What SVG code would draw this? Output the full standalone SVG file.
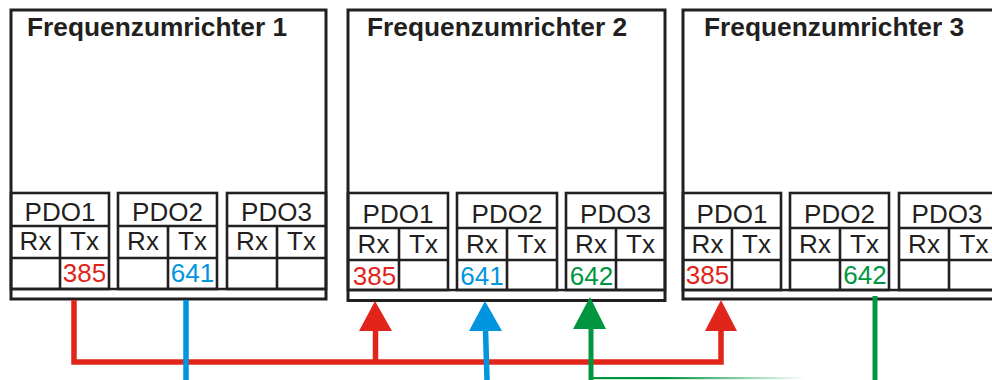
<svg xmlns="http://www.w3.org/2000/svg" width="992" height="380" viewBox="0 0 992 380">
<style>
.box{fill:#fff;stroke:#231f20;stroke-width:3}
.tb{fill:none;stroke:#231f20;stroke-width:2.6}
.ln{stroke:#231f20;stroke-width:2.6}
.title{font-family:"Liberation Sans",Arial,sans-serif;font-weight:bold;font-size:26.3px;fill:#231f20}
.t{font-family:"Liberation Sans",Arial,sans-serif;font-size:26px;fill:#231f20;text-anchor:middle}
.red{fill:#e1251b}
.blue{fill:#0095de}
.green{fill:#00963f}
.cr{stroke:#e1251b;stroke-width:5.5;fill:none}
.cb{stroke:#0095de;stroke-width:5.5;fill:none}
.cg{stroke:#00963f;stroke-width:5;fill:none}
</style>
<defs>
<linearGradient id="gfade" x1="590" y1="0" x2="805" y2="0" gradientUnits="userSpaceOnUse">
<stop offset="0" stop-color="#00963f"/>
<stop offset="0.35" stop-color="#00963f"/>
<stop offset="1" stop-color="#00963f" stop-opacity="0"/>
</linearGradient>
</defs>

<g id="fu1">
<rect class="box" x="11" y="10" width="315" height="289"/>
<line class="ln" x1="11" y1="289" x2="326" y2="289"/>
<text class="title" x="27" y="36">Frequenzumrichter 1</text>
<g id="fu1-pdo1">
<rect class="tb" x="11" y="193" width="98" height="96"/>
<line class="ln" x1="11" y1="226" x2="109" y2="226"/>
<line class="ln" x1="11" y1="258" x2="109" y2="258"/>
<line class="ln" x1="60" y1="226" x2="60" y2="289"/>
<text class="t" x="60" y="221">PDO1</text>
<text class="t" x="35.5" y="250">Rx</text>
<text class="t" x="84.5" y="250">Tx</text>
<text class="t red" x="84.5" y="282">385</text>
</g>
<g id="fu1-pdo2">
<rect class="tb" x="118" y="193" width="99" height="96"/>
<line class="ln" x1="118" y1="226" x2="217" y2="226"/>
<line class="ln" x1="118" y1="258" x2="217" y2="258"/>
<line class="ln" x1="168" y1="226" x2="168" y2="289"/>
<text class="t" x="167.5" y="221">PDO2</text>
<text class="t" x="143" y="250">Rx</text>
<text class="t" x="192.5" y="250">Tx</text>
<text class="t blue" x="192.5" y="282">641</text>
</g>
<g id="fu1-pdo3">
<rect class="tb" x="227" y="193" width="99" height="96"/>
<line class="ln" x1="227" y1="226" x2="326" y2="226"/>
<line class="ln" x1="227" y1="258" x2="326" y2="258"/>
<line class="ln" x1="277" y1="226" x2="277" y2="289"/>
<text class="t" x="276.5" y="221">PDO3</text>
<text class="t" x="252" y="250">Rx</text>
<text class="t" x="301.5" y="250">Tx</text>
</g>
</g>

<g id="fu2">
<rect class="box" x="348" y="10" width="317" height="290.5"/>
<line class="ln" x1="348" y1="290" x2="665" y2="290"/>
<text class="title" x="367" y="36">Frequenzumrichter 2</text>
<g id="fu2-pdo1">
<rect class="tb" x="348" y="193" width="100" height="97"/>
<line class="ln" x1="348" y1="228" x2="448" y2="228"/>
<line class="ln" x1="348" y1="260" x2="448" y2="260"/>
<line class="ln" x1="399" y1="228" x2="399" y2="290"/>
<text class="t" x="398" y="223">PDO1</text>
<text class="t" x="373.5" y="253">Rx</text>
<text class="t" x="423.5" y="253">Tx</text>
<text class="t red" x="374.5" y="285">385</text>
</g>
<g id="fu2-pdo2">
<rect class="tb" x="457" y="193" width="100" height="97"/>
<line class="ln" x1="457" y1="228" x2="557" y2="228"/>
<line class="ln" x1="457" y1="260" x2="557" y2="260"/>
<line class="ln" x1="507" y1="228" x2="507" y2="290"/>
<text class="t" x="507" y="223">PDO2</text>
<text class="t" x="482" y="253">Rx</text>
<text class="t" x="532" y="253">Tx</text>
<text class="t blue" x="482" y="285">641</text>
</g>
<g id="fu2-pdo3">
<rect class="tb" x="566" y="193" width="99" height="97"/>
<line class="ln" x1="566" y1="228" x2="665" y2="228"/>
<line class="ln" x1="566" y1="260" x2="665" y2="260"/>
<line class="ln" x1="616" y1="228" x2="616" y2="290"/>
<text class="t" x="615.5" y="223">PDO3</text>
<text class="t" x="591" y="253">Rx</text>
<text class="t" x="640.5" y="253">Tx</text>
<text class="t green" x="591.5" y="285">642</text>
</g>
</g>

<g id="fu3">
<rect class="box" x="683" y="10" width="330" height="289"/>
<line class="ln" x1="683" y1="290" x2="1013" y2="290"/>
<text class="title" x="704" y="36">Frequenzumrichter 3</text>
<g id="fu3-pdo1">
<rect class="tb" x="683" y="193" width="98" height="97"/>
<line class="ln" x1="683" y1="228" x2="781" y2="228"/>
<line class="ln" x1="683" y1="260" x2="781" y2="260"/>
<line class="ln" x1="732" y1="228" x2="732" y2="290"/>
<text class="t" x="732" y="223">PDO1</text>
<text class="t" x="707.5" y="253">Rx</text>
<text class="t" x="756.5" y="253">Tx</text>
<text class="t red" x="707.5" y="284">385</text>
</g>
<g id="fu3-pdo2">
<rect class="tb" x="790" y="193" width="99" height="97"/>
<line class="ln" x1="790" y1="228" x2="889" y2="228"/>
<line class="ln" x1="790" y1="260" x2="889" y2="260"/>
<line class="ln" x1="840" y1="228" x2="840" y2="290"/>
<text class="t" x="839.5" y="223">PDO2</text>
<text class="t" x="815" y="253">Rx</text>
<text class="t" x="864.5" y="253">Tx</text>
<text class="t green" x="865" y="284">642</text>
</g>
<g id="fu3-pdo3">
<rect class="tb" x="899" y="193" width="100" height="97"/>
<line class="ln" x1="899" y1="228" x2="999" y2="228"/>
<line class="ln" x1="899" y1="260" x2="999" y2="260"/>
<line class="ln" x1="949" y1="228" x2="949" y2="290"/>
<text class="t" x="947" y="223">PDO3</text>
<text class="t" x="924" y="253">Rx</text>
<text class="t" x="974" y="253">Tx</text>
</g>
</g>

<g id="connectors">
<path class="cr" d="M74,300 V362 H721 V329"/>
<path class="cr" d="M375.5,362 V329"/>
<polygon class="red" points="375,301 359,331 392,331"/>
<polygon class="red" points="721,300 705,331 737,331"/>
<path class="cb" d="M186,300 V380"/>
<path class="cb" d="M487,380 L485.5,329"/>
<polygon class="blue" points="485,301 469,331 502,331"/>
<path class="cg" d="M875,296 V380"/>
<path class="cg" d="M591,380 V327"/>
<polygon class="green" points="590,297 573,329 606,329"/>
<rect x="590" y="377" width="215" height="2.2" fill="url(#gfade)"/>
</g>
</svg>
